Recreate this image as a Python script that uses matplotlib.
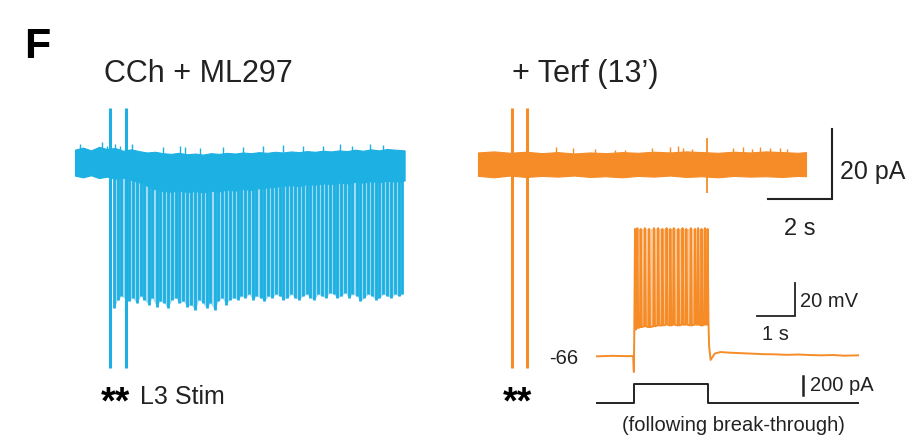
import matplotlib
matplotlib.use("Agg")
import matplotlib.pyplot as plt
import numpy as np

plt.rcParams['font.family'] = ['Liberation Sans', 'DejaVu Sans']

# ---------------- data ----------------
BLUE = '#1cb0e3'
BLUE_LIGHT = '#9fdaf2'
ORANGE = '#f58c28'
ORANGE_LIGHT = '#fbc89a'
INK = '#222222'

# Left trace: CCh + ML297 (time in s, current in pA)
blue_stim_times = [1.09, 1.59]
blue_stim_hi = [15.7, 15.7]
blue_stim_lo = [-58.5, -58.5]
blue_event_times = [1.22, 1.33, 1.45, 1.68, 1.80, 1.93, 2.05, 2.16, 2.30, 2.41, 2.55, 2.66,
                    2.79, 2.90, 3.03, 3.15, 3.26, 3.39, 3.51, 3.62, 3.76, 3.87, 3.99, 4.12,
                    4.23, 4.36, 4.47, 4.60, 4.72, 4.83, 4.96, 5.08, 5.20, 5.31, 5.44, 5.56,
                    5.67, 5.80, 5.92, 6.04, 6.15, 6.28, 6.40, 6.51, 6.64, 6.76, 6.88, 6.99,
                    7.12, 7.24, 7.35, 7.48, 7.60, 7.72, 7.83, 7.96, 8.08, 8.19, 8.32, 8.44,
                    8.56, 8.67, 8.80, 8.92, 9.03, 9.16, 9.28, 9.40, 9.51, 9.64, 9.76, 9.88,
                    9.99, 10.12, 10.23]
blue_event_amps = [-41.5, -39.0, -38.0, -39.5, -38.5, -40.0, -38.0, -39.0, -40.5, -38.5, -41.0, -39.5,
                   -40.0, -41.5, -39.0, -38.5, -40.0, -39.5, -41.0, -40.5, -42.0, -39.0, -40.0, -41.5,
                   -40.0, -42.0, -39.5, -38.5, -40.5, -39.0, -38.5, -39.0, -38.0, -38.5, -37.5, -39.0,
                   -38.0, -38.5, -39.5, -38.0, -38.5, -37.5, -38.0, -39.0, -38.5, -37.5, -38.5, -39.0,
                   -38.0, -37.5, -38.5, -39.0, -37.5, -38.0, -38.5, -37.0, -37.5, -38.5, -38.0, -37.0,
                   -38.5, -37.5, -38.0, -39.5, -38.5, -37.5, -38.0, -39.0, -38.5, -37.5, -38.0, -38.5,
                   -37.5, -38.0, -37.5]
blue_env_t = [0.00, 0.25, 0.50, 0.75, 1.00, 1.25, 1.50, 1.75, 2.00, 2.25, 2.50, 2.75, 3.00, 3.25,
              3.50, 3.75, 4.00, 4.25, 4.50, 4.75, 5.00, 5.25, 5.50, 5.75, 6.00, 6.25, 6.50, 6.75,
              7.00, 7.25, 7.50, 7.75, 8.00, 8.25, 8.50, 8.75, 9.00, 9.25, 9.50, 9.75, 10.00, 10.30]
blue_env_hi = [3.8, 4.4, 3.6, 4.6, 4.0, 4.3, 3.5, 3.9, 3.4, 3.0, 3.2, 2.8, 2.6, 2.9, 2.5, 2.7,
               2.4, 2.8, 2.6, 2.9, 2.7, 3.0, 2.8, 3.1, 2.9, 3.2, 3.0, 3.3, 3.1, 3.4, 3.2, 3.5,
               3.3, 3.6, 3.4, 3.8, 3.5, 3.9, 3.6, 4.0, 3.8, 3.6]
blue_env_lo = [-3.6, -4.1, -3.5, -4.3, -3.9, -4.5, -4.2, -4.8, -5.5, -6.5, -7.5, -8.0, -8.2, -7.8,
               -8.3, -8.0, -8.4, -7.9, -8.1, -7.6, -7.9, -7.4, -7.7, -7.2, -7.0, -6.8, -6.5, -6.3,
               -6.6, -6.0, -6.2, -5.8, -6.0, -5.6, -5.8, -5.4, -5.6, -5.2, -5.5, -5.0, -5.3, -5.0]
blue_blip_times = [0.16, 0.84, 1.00, 1.25, 1.41, 1.78, 2.75, 3.28, 3.44, 3.91, 4.63, 5.25,
                   5.88, 6.50, 7.13, 7.75, 8.28, 8.66, 9.22, 9.63]
blue_blip_amps = [5.5, 6.0, 5.0, 5.5, 5.0, 5.5, 4.5, 4.8, 4.5, 4.2, 4.5, 4.6,
                  5.0, 5.2, 4.8, 5.0, 5.5, 5.0, 5.4, 5.2]

# Right trace: + Terf (13')
orange_stim_times = [1.06, 1.53]
orange_stim_hi = [16.0, 16.0]
orange_stim_lo = [-58.3, -58.3]
orange_env_t = [0.00, 0.50, 1.00, 1.50, 2.00, 2.50, 3.00, 3.50, 4.00, 4.50, 5.00, 5.50, 6.00,
                6.50, 7.00, 7.50, 8.00, 8.50, 9.00, 9.50, 10.00, 10.25]
orange_env_hi = [3.3, 3.6, 3.2, 3.5, 3.1, 3.4, 3.0, 3.3, 3.1, 3.4, 3.2, 3.5, 3.3, 3.6,
                 3.4, 3.2, 3.5, 3.3, 3.6, 3.4, 3.2, 3.4]
orange_env_lo = [-3.4, -3.8, -3.3, -3.7, -3.4, -3.6, -3.3, -3.7, -3.5, -3.8, -3.4, -3.6, -3.3,
                 -3.7, -3.5, -3.8, -3.4, -3.6, -3.5, -3.7, -3.4, -3.5]
orange_blip_times = [2.44, 2.97, 3.66, 4.28, 4.59, 5.44, 6.00, 6.25, 6.41, 6.69,
                     7.97, 8.28, 8.56, 8.81, 9.13, 9.44, 9.66]
orange_blip_amps = [5.0, 4.5, 4.2, 4.0, 4.0, 4.5, 5.0, 5.2, 4.6, 4.4,
                    4.6, 4.8, 4.4, 4.8, 4.5, 4.6, 4.4]
orange_event_time = 7.16
orange_event_hi = 7.4
orange_event_lo = -8.3

# Inset: current-clamp response (time in s, membrane potential in mV)
v_rest = -66
v_pre_t = [0.00, 0.40, 0.80, 0.95]
v_pre_v = [-66.2, -65.9, -66.1, -66.0]
v_dip_t = [0.97]
v_dip_v = [-75.7]
spike_times = [1.00, 1.06, 1.15, 1.26, 1.37, 1.50, 1.61, 1.72, 1.83, 1.93,
               2.02, 2.14, 2.25, 2.35, 2.47, 2.58, 2.66, 2.75, 2.84, 2.91]
spike_peaks = [11.0, 11.5, 11.0, 11.5, 11.0, 11.5, 11.5, 11.0, 11.5, 11.0,
               11.5, 11.0, 11.5, 11.0, 11.5, 11.0, 11.5, 11.0, 11.5, 11.0]
spike_troughs = [-50.0, -49.0, -48.5, -48.0, -48.5, -48.0, -47.5, -47.5, -47.0, -47.5,
                 -47.0, -47.5, -47.0, -47.0, -47.5, -47.0, -47.0, -47.5, -47.0, -47.0]
v_post_t = [2.95, 2.99, 3.10, 3.25, 3.50, 3.80, 4.10, 4.40, 4.70, 5.00, 5.30, 5.60,
            5.90, 6.20, 6.50, 6.87]
v_post_v = [-60.0, -68.4, -64.5, -63.6, -64.0, -64.3, -64.6, -64.9, -65.0, -65.3, -65.1,
            -65.4, -65.6, -65.4, -65.8, -65.6]

# Injected current step (pA)
step_times = [0.00, 0.97, 2.92, 6.87]
step_amps = [0, 200, 0, 0]

# ---------------- layout helpers ----------------
W, H = 919, 441
fig = plt.figure(figsize=(W / 100, H / 100), dpi=100)


def add_axes_px(l, t, r, b, x_ref, x_ref_px, xs, y_ref, y_ref_px, ys):
    ax = fig.add_axes([l / W, 1 - b / H, (r - l) / W, (b - t) / H])
    x0 = x_ref - (x_ref_px - l) / xs
    ax.set_xlim(x0, x0 + (r - l) / xs)
    ax.set_ylim(y_ref - (b - y_ref_px) / ys, y_ref + (y_ref_px - t) / ys)
    ax.axis('off')
    ax.patch.set_alpha(0)
    return ax


def ftext(x, y, s, **kw):
    fig.text(x / W, 1 - y / H, s, **kw)


# left trace axes: 32 px per s, 3.5 px per pA
axL = add_axes_px(60, 95, 430, 380, 0, 75, 32.0, 0, 163, 3.5)
axL.fill_between(blue_event_times, blue_event_amps, 0, color=BLUE_LIGHT, lw=0)
axL.fill_between(blue_env_t, blue_env_lo, blue_env_hi, color=BLUE, lw=0.8, edgecolor=BLUE)
axL.vlines(blue_event_times, 0, blue_event_amps, color=BLUE, lw=2.0)
axL.vlines(blue_blip_times, 0, blue_blip_amps, color=BLUE, lw=1.0)
axL.vlines(blue_stim_times, blue_stim_lo, blue_stim_hi, color=BLUE, lw=2.2)

# right trace axes
axR = add_axes_px(465, 95, 900, 380, 0, 478, 32.0, 0, 164, 3.5)
axR.fill_between(orange_env_t, orange_env_lo, orange_env_hi, color=ORANGE, lw=0.8, edgecolor=ORANGE)
axR.vlines(orange_blip_times, 0, orange_blip_amps, color=ORANGE, lw=1.0)
axR.vlines([orange_event_time], orange_event_lo, orange_event_hi, color=ORANGE, lw=1.3)
axR.vlines(orange_stim_times, orange_stim_lo, orange_stim_hi, color=ORANGE, lw=2.2)
# scale bar 2 s / 20 pA
sb_x, sb_y = 11.06, -10.0
axR.plot([sb_x - 2, sb_x, sb_x], [sb_y, sb_y, sb_y + 20], color=INK, lw=1.5,
         solid_joinstyle='miter', clip_on=False)

# inset voltage axes: 38 px per s, 1.65 px per mV
axV = add_axes_px(540, 215, 900, 380, 0, 597, 38.0, v_rest, 356, 1.65)
axV.fill_between(spike_times, spike_troughs, spike_peaks, color=ORANGE_LIGHT, lw=0)
vt = list(v_pre_t) + list(v_dip_t)
vv = list(v_pre_v) + list(v_dip_v)
for st, pk, tr in zip(spike_times, spike_peaks, spike_troughs):
    vt += [st - 0.018, st, st + 0.025]
    vv += [tr, pk, tr]
vt += v_post_t
vv += v_post_v
axV.plot(vt, vv, color=ORANGE, lw=1.4)
# scale bar 1 s / 20 mV
vb_x, vb_y = 5.21, -41.8
axV.plot([vb_x - 1, vb_x, vb_x], [vb_y, vb_y, vb_y + 20], color=INK, lw=1.3,
         solid_joinstyle='miter', clip_on=False)

# inset current axes
axI = add_axes_px(590, 365, 900, 415, 0, 597, 38.0, 0, 403, 0.095)
axI.plot(step_times, step_amps, drawstyle='steps-post', color=INK, lw=1.4)
axI.plot([5.42, 5.42], [84, 284], color=INK, lw=1.8, clip_on=False)

# ---------------- text ----------------
ftext(24, 58, 'F', fontsize=31, fontweight='bold', color='black', va='baseline')
ftext(104, 82, 'CCh + ML297', fontsize=22, color=INK, va='baseline')
ftext(512, 82, '+ Terf (13\u2019)', fontsize=22, color=INK, va='baseline')
ftext(840, 179, '20 pA', fontsize=18, color=INK, va='baseline')
ftext(800, 235, '2 s', fontsize=17, color=INK, va='baseline', ha='center')
ftext(800, 307, '20 mV', fontsize=14.5, color=INK, va='baseline')
ftext(762, 340, '1 s', fontsize=14.5, color=INK, va='baseline')
ftext(810, 391, '200 pA', fontsize=14.5, color=INK, va='baseline')
ftext(578, 364, '-66', fontsize=14.5, color=INK, va='baseline', ha='right')
ftext(733, 431, '(following break-through)', fontsize=14.5, color=INK, va='baseline', ha='center')
ftext(101, 413, '**', fontsize=27, fontweight='bold', color='black', va='baseline')
ftext(140, 404, 'L3 Stim', fontsize=18, color=INK, va='baseline')
ftext(503, 413, '**', fontsize=27, fontweight='bold', color='black', va='baseline')

fig.savefig('out.png', dpi=100)
